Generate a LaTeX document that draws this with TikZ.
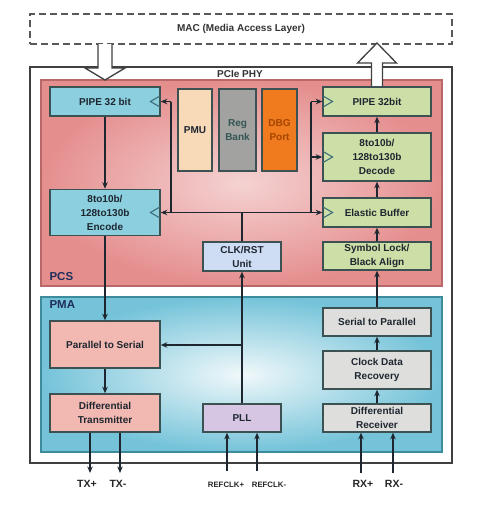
\documentclass[tikz,border=0pt]{standalone}
\usepackage{fontspec}
\setmainfont{Liberation Sans}
\usetikzlibrary{arrows.meta,calc}
\definecolor{boxline}{HTML}{3C5252}
\definecolor{blueb}{HTML}{8CCFDF}
\definecolor{greenb}{HTML}{CCDFA6}
\definecolor{pinkb}{HTML}{F2B9B2}
\definecolor{grayb}{HTML}{DEDEDC}
\definecolor{pmuf}{HTML}{F8D9B8}
\definecolor{regf}{HTML}{A2A2A0}
\definecolor{dbgf}{HTML}{F07A1E}
\definecolor{clkf}{HTML}{CFDDF4}
\definecolor{pllf}{HTML}{D6C6E4}
\definecolor{pcsout}{HTML}{E58E8E}
\definecolor{pcsin}{HTML}{F5D2D2}
\definecolor{pcsline}{HTML}{B86868}
\definecolor{pmaout}{HTML}{74C3D9}
\definecolor{pmain}{HTML}{F0F8FA}
\definecolor{pmaline}{HTML}{3D8C9C}
\definecolor{txt}{HTML}{1E2630}
\definecolor{navy}{HTML}{1F2F5A}
\definecolor{tri}{HTML}{3E6E7A}
\tikzset{
  box/.style={draw=boxline, line width=1.5pt, align=center, inner sep=1pt,
    font=\fontsize{10}{14}\selectfont\bfseries, text=txt},
  con/.style={draw=txt, line width=1.3pt},
  arr/.style={con, -{Stealth[length=6.5pt,width=5.5pt]}},
  clktri/.style={draw=tri, line width=1.1pt},
  hollow/.style={draw=black!75, line width=1.3pt, fill=white},
  lbl/.style={font=\fontsize{10.5}{12}\selectfont\bfseries, text=black!85},
  smalllbl/.style={font=\fontsize{7.8}{9}\selectfont\bfseries, text=black!85}
}
\begin{document}
\begin{tikzpicture}[x=1pt,y=-1pt]
\useasboundingbox[fill=white] (0,0) rectangle (480,506);
% MAC
\node[draw=black!65, dash pattern=on 7pt off 4pt, line width=1.3pt, minimum width=422, minimum height=30,
  font=\fontsize{10}{12}\selectfont\bfseries, text=black!80] (mac) at (241,29) {MAC (Media Access Layer)};
% PHY
\node[draw=black!75, line width=1.6pt, minimum width=422, minimum height=396] (phy) at (241,265) {};
\node[font=\fontsize{10}{12}\selectfont\bfseries, text=black!80] (phyl) at (240,74) {PCIe PHY};
% PCS region
\node[draw=pcsline, line width=1.8pt, shade, inner color=pcsin, outer color=pcsout,
  minimum width=401, minimum height=206] (pcs) at (241.5,183) {};
\node[anchor=west, font=\fontsize{11.5}{13}\selectfont\bfseries, text=navy] (pcsl) at (46,277) {PCS};
% PMA region
\node[draw=pmaline, line width=1.8pt, shade, inner color=pmain, outer color=pmaout,
  minimum width=401, minimum height=155] (pma) at (241.5,374.5) {};
\node[anchor=west, font=\fontsize{11.5}{13}\selectfont\bfseries, text=navy] (pmal) at (46,305) {PMA};
% hollow arrows
\filldraw[hollow] (98,44) -- (98,68) -- (85,68) -- (105,80) -- (125,68) -- (112,68) -- (112,44);
\filldraw[hollow] (371.5,87) -- (371.5,63) -- (357.5,63) -- (377,43) -- (396.5,63) -- (382.5,63) -- (382.5,87);
% PCS boxes
\node[box, fill=blueb, minimum width=110, minimum height=29] (pipeL) at (105,101.5) {PIPE 32 bit};
\node[box, fill=blueb, minimum width=110, minimum height=46] (enc) at (105,212.5) {8to10b/\\128to130b\\Encode};
\node[box, fill=pmuf, minimum width=34, minimum height=82] (pmu) at (195,130) {PMU};
\node[box, fill=regf, minimum width=37, minimum height=82, text=black!55!teal!60!gray] (reg) at (237.5,130) {Reg\\Bank};
\node[box, fill=dbgf, minimum width=35, minimum height=82, text=orange!60!black!90!red] (dbg) at (279.5,130) {DBG\\Port};
\node[box, fill=clkf, minimum width=78, minimum height=29] (clk) at (242,256.5) {CLK/RST\\Unit};
\node[box, fill=greenb, minimum width=108, minimum height=29] (pipeR) at (377,101.5) {PIPE 32bit};
\node[box, fill=greenb, minimum width=108, minimum height=48] (dec) at (377,157) {8to10b/\\128to130b\\Decode};
\node[box, fill=greenb, minimum width=108, minimum height=29] (eb) at (377,212.5) {Elastic Buffer};
\node[box, fill=greenb, minimum width=108, minimum height=28] (sym) at (377,256) {Symbol Lock/\\Black Align};
% PMA boxes
\node[box, fill=pinkb, minimum width=110, minimum height=47] (p2s) at (105,344.5) {Parallel to Serial};
\node[box, fill=pinkb, minimum width=110, minimum height=38] (dtx) at (105,413) {Differential\\Transmitter};
\node[box, fill=pllf, minimum width=78, minimum height=28] (pll) at (242,418) {PLL};
\node[box, fill=grayb, minimum width=108, minimum height=28] (s2p) at (377,322) {Serial to Parallel};
\node[box, fill=grayb, minimum width=108, minimum height=38] (cdr) at (377,370) {Clock Data\\Recovery};
\node[box, fill=grayb, minimum width=108, minimum height=28] (drx) at (377,418) {Differential\\Receiver};
% clock triangles
\foreach \n in {pipeL,enc}{
  \draw[clktri] ($(\n.east)+(-0.8,-5.5)$) -- ++(-9.5,5.5) -- ++(9.5,5.5);
}
\foreach \n in {pipeR,dec,eb}{
  \draw[clktri] ($(\n.west)+(0.8,-5.5)$) -- ++(9.5,5.5) -- ++(-9.5,5.5);
}
% TX path
\draw[arr] (pipeL.south) -- (enc.north);
\draw[arr] (enc.south) -- (p2s.north);
\draw[arr] (p2s.south) -- (dtx.north);
\coordinate (txp) at (90,473);
\coordinate (txm) at (120,473);
\draw[arr] (dtx.south -| txp) -- (txp);
\draw[arr] (dtx.south -| txm) -- (txm);
\node[lbl] (ltxp) at (87,484) {TX+};
\node[lbl] (ltxm) at (118,484) {TX-};
% RX path
\coordinate (rxp) at (361,473);
\coordinate (rxm) at (393,473);
\draw[arr] (rxp) -- (drx.south -| rxp);
\draw[arr] (rxm) -- (drx.south -| rxm);
\node[lbl] (lrxp) at (363,484) {RX+};
\node[lbl] (lrxm) at (394,484) {RX-};
\draw[arr] (drx.north) -- (cdr.south);
\draw[arr] (cdr.north) -- (s2p.south);
\draw[arr] (s2p.north) -- (sym.south);
\draw[arr] (sym.north) -- (eb.south);
\draw[arr] (eb.north) -- (dec.south);
\draw[arr] (dec.north) -- (pipeR.south);
% clocks
\coordinate (rcp) at (227,471);
\coordinate (rcm) at (257,471);
\draw[arr] (rcp) -- (pll.south -| rcp);
\draw[arr] (rcm) -- (pll.south -| rcm);
\node[smalllbl] (lrcp) at (226,485) {REFCLK+};
\node[smalllbl] (lrcm) at (269,485) {REFCLK-};
\draw[arr] (pll.north) -- (clk.south);
\coordinate (br) at (242,345);
\draw[arr] (br) -- (br -| p2s.east);
\coordinate (busL) at (171,212.5);
\coordinate (busR) at (311,212.5);
\draw[con] (clk.north) -- (clk.north |- busL);
\draw[con] (busL) -- (busR);
\draw[con] (busL) -- (busL |- pipeL.east);
\draw[con] (busR) -- (busR |- pipeR.west);
\draw[arr] (busL |- pipeL.east) -- (pipeL.east);
\draw[arr] (busL) -- (enc.east);
\draw[arr] (busR |- pipeR.west) -- (pipeR.west);
\draw[arr] (busR |- dec.west) -- (dec.west);
\draw[arr] (busR) -- (eb.west);
\end{tikzpicture}
\end{document}
